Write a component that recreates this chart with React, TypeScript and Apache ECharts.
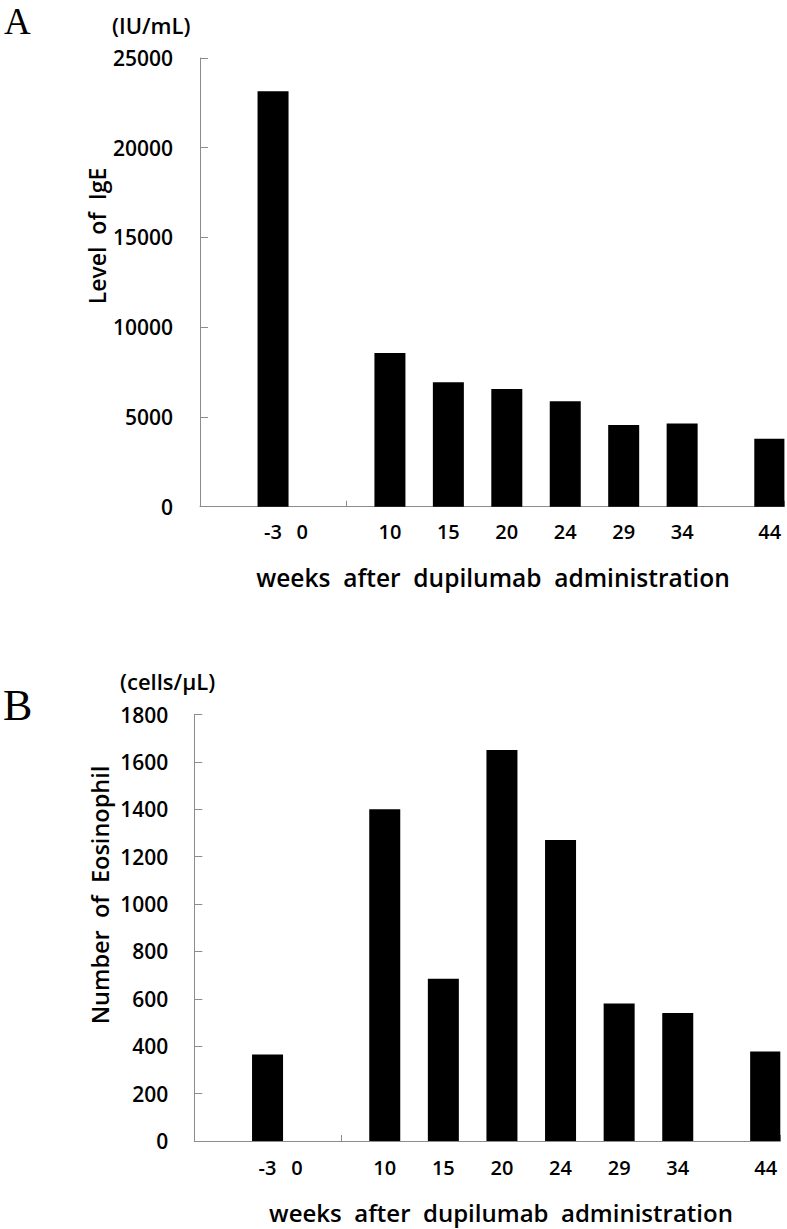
import React, { useEffect, useRef } from 'react';
import * as echarts from 'echarts';

// ---- data ----
const weeks = ['-3', '0', '10', '15', '20', '24', '29', '34', '44'];
const igeLevels = [23150, null, 8570, 6930, 6560, 5870, 4550, 4640, 3780];
const eosinophilCounts = [365, null, 1400, 685, 1650, 1270, 580, 540, 378];
const igeAxis = { min: 0, max: 25000, interval: 5000 };
const eosAxis = { min: 0, max: 1800, interval: 200 };

// ---- layout of the original category axis (half-width slots) ----
const SLOT_COUNT = 20;
const weekSlot = [2, 3, 6, 8, 10, 12, 14, 16, 19];
// the visible tick sits at the left edge of slot 5; slot 10's edge tick is hidden under its bar
const tickSlots = [5, 10];

const FONT = 'Open Sans';
const GREY = '#8c8c8c';
const WEIGHT = 600;

const slotNames = Array.from({ length: SLOT_COUNT }, (_, i) => 's' + i);
const slotLabels: string[] = Array(SLOT_COUNT).fill('');
weekSlot.forEach((s, i) => (slotLabels[s] = weeks[i]));
const toSlots = (vals: (number | null)[]) => {
  const d: (number | null)[] = Array(SLOT_COUNT).fill(null);
  weekSlot.forEach((s, i) => (d[s] = vals[i]));
  return d;
};

const xAxisFor = (gridIndex: number, margin: number) => ({
  type: 'category',
  gridIndex,
  data: slotNames,
  boundaryGap: true,
  z: 0,
  axisLine: { show: true, lineStyle: { color: GREY, width: 1 } },
  axisTick: {
    show: true,
    inside: true,
    length: 6,
    interval: (i: number) => tickSlots.indexOf(i) >= 0,
    lineStyle: { color: GREY },
  },
  axisLabel: {
    interval: 0,
    margin,
    formatter: (_v: string, idx: number) => slotLabels[idx],
    fontFamily: FONT,
    fontWeight: WEIGHT,
    fontSize: 20,
    color: '#000',
  },
  splitLine: { show: false },
});

const yAxisFor = (gridIndex: number, ax: { min: number; max: number; interval: number }, margin: number) => ({
  type: 'value',
  gridIndex,
  min: ax.min,
  max: ax.max,
  interval: ax.interval,
  axisLine: { show: true, lineStyle: { color: GREY, width: 1 } },
  axisTick: { show: true, inside: true, length: 8, lineStyle: { color: GREY } },
  axisLabel: {
    margin,
    formatter: (v: number) => String(v),
    fontFamily: FONT,
    fontWeight: WEIGHT,
    fontSize: 21,
    color: '#000',
  },
  splitLine: { show: false },
});

const txt = (text: string, x: number, y: number, fontSize: number, opts: any = {}) => ({
  type: 'text',
  x,
  y,
  rotation: opts.rotation || 0,
  style: {
    text,
    fontFamily: opts.fontFamily || FONT,
    fontWeight: opts.fontWeight === undefined ? WEIGHT : opts.fontWeight,
    fontSize,
    fill: '#000',
    align: opts.align || 'center',
    verticalAlign: opts.verticalAlign || 'middle',
  },
});

export default function App() {
  const ref = useRef<HTMLDivElement>(null);
  useEffect(() => {
    if (!ref.current) return;
    const chart = echarts.init(ref.current, undefined, { renderer: 'svg' });
    chart.setOption({
      animation: false,
      backgroundColor: '#fff',
      grid: [
        { left: 200, top: 58, width: 584.4, height: 448.7 },
        { left: 194.3, top: 714.5, width: 586, height: 426.5 },
      ],
      xAxis: [xAxisFor(0, 15), xAxisFor(1, 16)],
      yAxis: [yAxisFor(0, igeAxis, 27), yAxisFor(1, eosAxis, 26)],
      series: [
        {
          type: 'bar',
          xAxisIndex: 0,
          yAxisIndex: 0,
          data: toSlots(igeLevels),
          barWidth: 31,
          z: 5,
          itemStyle: { color: '#000' },
        },
        {
          type: 'bar',
          xAxisIndex: 1,
          yAxisIndex: 1,
          data: toSlots(eosinophilCounts),
          barWidth: 31,
          z: 5,
          itemStyle: { color: '#000' },
        },
      ],
      graphic: [
        txt('A', 4, 21, 37, { fontFamily: 'Liberation Serif', align: 'left', fontWeight: 'normal' }),
        txt('B', 3, 705, 44, { fontFamily: 'Liberation Serif', align: 'left', fontWeight: 'normal' }),
        txt('(IU/mL)', 112, 25, 22, { align: 'left' }),
        txt('(cells/μL)', 120, 681, 22, { align: 'left' }),
        txt('Level  of  IgE', 97, 236, 23, { rotation: Math.PI / 2 }),
        txt('Number  of  Eosinophil', 100, 895, 23.5, { rotation: Math.PI / 2 }),
        txt('weeks  after  dupilumab  administration', 493, 577, 24.5),
        txt('weeks  after  dupilumab  administration', 501, 1212, 24),
      ],
    });
    return () => chart.dispose();
  }, []);
  return (
    <div
      ref={ref}
      style={{ position: 'fixed', left: 0, top: 0, width: 787, height: 1229, background: '#fff' }}
    />
  );
}
